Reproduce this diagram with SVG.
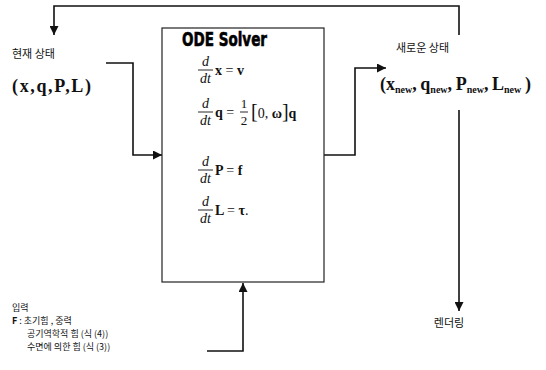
<svg xmlns="http://www.w3.org/2000/svg" width="546" height="370" viewBox="0 0 546 370">
<defs>
<marker id="ah" viewBox="0 0 10 10" refX="10" refY="5" markerWidth="9" markerHeight="9" markerUnits="userSpaceOnUse" orient="auto">
<path d="M0,0 L10,5 L0,10 z" fill="#111"/>
</marker>
<style>
.ko{font-family:"Noto Sans CJK KR","Noto Sans",sans-serif;font-size:11px;fill:#111}
.ko2{font-family:"Noto Sans CJK KR","Noto Sans",sans-serif;font-size:9px;fill:#111}
.m{font-family:"Liberation Serif",serif;font-weight:bold;fill:#111}
.mi{font-family:"Liberation Serif",serif;font-style:italic;font-size:14px;fill:#111}
.mr{font-family:"Liberation Serif",serif;font-size:13px;fill:#111}
.c{fill:none;stroke:#111;stroke-width:1.6}
.box{fill:#fff;stroke:#222;stroke-width:1.2}
.fl{stroke:#111;stroke-width:0.9}
</style>
</defs>
<rect width="546" height="370" fill="#fff"/>

<g id="connectors">
<polyline class="c" points="459,35 459,6 54,6 54,35" marker-end="url(#ah)"/>
<polyline class="c" points="106,63 133,63 133,155 162,155" marker-end="url(#ah)"/>
<polyline class="c" points="324,155 355,155 355,68 386,68" marker-end="url(#ah)"/>
<polyline class="c" points="459,110 459,311" marker-end="url(#ah)"/>
<polyline class="c" points="207,351 243,351 243,283" marker-end="url(#ah)"/>
</g>

<g id="current-state">
<text class="ko" x="12" y="58">현재 상태</text>
<text class="m" x="12" y="92" font-size="18" textLength="79" lengthAdjust="spacing">(x,q,P,L)</text>
</g>

<g id="ode-solver">
<rect class="box" x="162" y="28" width="162" height="254"/>
<text x="182" y="46" font-family="Liberation Sans Narrow,DejaVu Sans Condensed,sans-serif" font-weight="900" font-size="20" textLength="85" lengthAdjust="spacingAndGlyphs" fill="#000" stroke="#000" stroke-width="0.6">ODE Solver</text>
<g transform="translate(0,70)">
<text class="mi" x="205.5" y="-4" text-anchor="middle">d</text>
<line class="fl" x1="198" y1="0" x2="213" y2="0"/>
<text class="mi" x="205.5" y="13" text-anchor="middle">dt</text>
<text class="m" x="215" y="5" font-size="14">x <tspan font-weight="normal">=</tspan> v</text>
</g>
<g transform="translate(0,112)">
<text class="mi" x="205.5" y="-4" text-anchor="middle">d</text>
<line class="fl" x1="198" y1="0" x2="213" y2="0"/>
<text class="mi" x="205.5" y="13" text-anchor="middle">dt</text>
<text class="m" x="215" y="5" font-size="14">q <tspan font-weight="normal">=</tspan></text>
<text class="mr" x="244" y="-4" text-anchor="middle">1</text>
<line class="fl" x1="240" y1="0" x2="248" y2="0"/>
<text class="mr" x="244" y="13" text-anchor="middle">2</text>
<text class="m" x="251" y="6" font-size="14"><tspan font-weight="normal" font-size="20">[</tspan><tspan font-weight="normal">0,</tspan> ω<tspan font-weight="normal" font-size="20">]</tspan>q</text>
</g>
<g transform="translate(0,170)">
<text class="mi" x="205.5" y="-4" text-anchor="middle">d</text>
<line class="fl" x1="198" y1="0" x2="213" y2="0"/>
<text class="mi" x="205.5" y="13" text-anchor="middle">dt</text>
<text class="m" x="215" y="5" font-size="14">P <tspan font-weight="normal">=</tspan> f</text>
</g>
<g transform="translate(0,210)">
<text class="mi" x="205.5" y="-4" text-anchor="middle">d</text>
<line class="fl" x1="198" y1="0" x2="213" y2="0"/>
<text class="mi" x="205.5" y="13" text-anchor="middle">dt</text>
<text class="m" x="215" y="5" font-size="14">L <tspan font-weight="normal">=</tspan> τ<tspan font-weight="normal">.</tspan></text>
</g>
</g>

<g id="new-state">
<text class="ko" x="396" y="52">새로운 상태</text>
<text class="m" x="380" y="90" font-size="18">(x<tspan font-size="10" dy="3">new</tspan><tspan dy="-3">,&#8201;q</tspan><tspan font-size="10" dy="3">new</tspan><tspan dy="-3">,&#8201;P</tspan><tspan font-size="10" dy="3">new</tspan><tspan dy="-3">,&#8201;L</tspan><tspan font-size="10" dy="3">new</tspan><tspan dy="-3">&#8201;)</tspan></text>
</g>

<g id="rendering">
<text class="ko" x="449" y="327" text-anchor="middle">렌더링</text>
</g>

<g id="input">
<text class="ko2"><tspan x="12" y="311">입력</tspan><tspan x="12" y="324"><tspan font-weight="bold">F</tspan> : 초기힘 , 중력</tspan><tspan x="27" y="337">공기역학적 힘 (식 (4))</tspan><tspan x="27" y="350">수면에 의한 힘 (식 (3))</tspan></text>
</g>
</svg>
